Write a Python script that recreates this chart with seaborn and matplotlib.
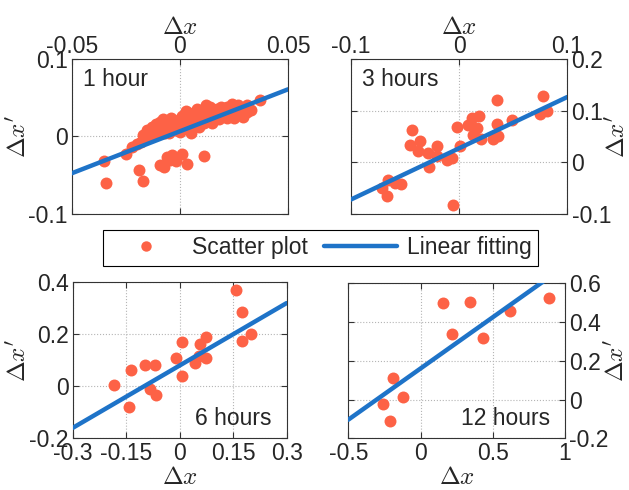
import matplotlib
matplotlib.use("Agg")
import matplotlib.pyplot as plt
import seaborn as sns
from matplotlib.lines import Line2D

# ---- data ---------------------------------------------------------------
# 1 hour
x1 = [-0.035, -0.034, -0.025, -0.019, -0.017, -0.018, -0.016, -0.014, -0.013,
      -0.012, -0.011, -0.010, -0.009, -0.008, -0.008, -0.007, -0.006, -0.005,
      -0.005, -0.004, -0.003, -0.002, -0.001, 0.000, 0.000, 0.001, 0.002,
      0.003, 0.003, 0.004, 0.005, 0.005, 0.006, 0.007, 0.008, 0.009, 0.010,
      0.011, 0.012, 0.012, 0.013, 0.014, 0.015, 0.016, 0.017, 0.018, 0.019,
      0.020, 0.021, 0.022, 0.023, 0.024, 0.025, 0.026, 0.027, 0.028, 0.029,
      0.030, 0.031, 0.033, 0.037,
      -0.017, -0.015, -0.013, -0.011, -0.009, -0.007, -0.004, -0.002, 0.001,
      0.002, 0.004, 0.006, 0.008, 0.009, 0.010, 0.012, 0.014, 0.016, 0.017,
      0.019, 0.020, 0.022, 0.023, 0.025, 0.027, 0.029, 0.031, -0.020, -0.022,
      -0.009, -0.0075, -0.006, -0.0045, -0.0035, -0.002, 0.001, 0.0035, 0.011]
y1 = [-0.031, -0.060, -0.022, -0.043, -0.058, -0.007, -0.003, 0.006, 0.000,
      0.009, 0.003, 0.013, 0.006, 0.023, 0.016, 0.010, 0.020, 0.004,
      0.014, 0.024, 0.009, 0.018, 0.013, 0.022, 0.006, 0.016, 0.026,
      0.033, 0.011, 0.020, 0.004, 0.028, 0.016, 0.031, 0.022, 0.012, 0.027,
      0.018, 0.040, 0.031, 0.023, 0.034, 0.017, 0.028, 0.036, 0.022, 0.031,
      0.026, 0.034, 0.024, 0.029, 0.042, 0.024, 0.034, 0.029, 0.037, 0.025,
      0.036, 0.031, 0.034, 0.047,
      0.002, 0.008, 0.012, 0.016, 0.019, 0.005, 0.016, 0.008, 0.027,
      0.011, 0.030, 0.024, 0.036, 0.030, 0.020, 0.025, 0.038, 0.034, 0.024,
      0.038, 0.033, 0.038, 0.031, 0.032, 0.041, 0.033, 0.040, -0.010, -0.013,
      -0.037, -0.039, -0.027, -0.030, -0.024, -0.032, -0.022, -0.036, -0.025]
fit1_x = [-0.05, 0.05]
fit1_y = [-0.0475, 0.0609]

# 3 hours
x2 = [-0.0714, -0.0653, -0.0668, -0.0591, -0.0538, -0.0437, -0.0452, -0.0360,
      -0.0376, -0.0283, -0.0206, -0.0274, -0.0206, -0.0114, -0.0068, -0.0058,
      -0.0021, 0.0010, 0.0117, 0.0187, 0.0086, 0.0163, 0.0132, 0.0200,
      0.0348, 0.0348, 0.0317, 0.0363, 0.0487, 0.0778, 0.0748, 0.0810]
y2 = [-0.0495, -0.0335, -0.0644, -0.0398, -0.0412, 0.0632, 0.0342, 0.0406,
      0.0213, 0.0180, 0.0323, -0.0090, 0.0116, 0.0052, 0.0085, -0.0831,
      0.0684, 0.0310, 0.0858, 0.0903, 0.0729, 0.0665, 0.0536, 0.0452,
      0.1200, 0.0749, 0.0452, 0.0503, 0.0826, 0.1277, 0.0942, 0.0987]
fit2_x = [-0.1, 0.1]
fit2_y = [-0.0722, 0.1265]

# 6 hours
x3 = [-0.185, -0.137, -0.143, -0.098, -0.069, -0.083, -0.066, -0.009, 0.008,
      0.007, 0.044, 0.056, 0.053, 0.074, 0.073, 0.159, 0.175, 0.176, 0.201]
y3 = [0.005, 0.064, -0.080, 0.080, 0.081, -0.009, -0.035, 0.109, 0.170,
      0.038, 0.091, 0.162, 0.115, 0.190, 0.110, 0.372, 0.286, 0.173, 0.203]
fit3_x = [-0.3, 0.3]
fit3_y = [-0.160, 0.320]

# 12 hours
x4 = [-0.258, -0.211, -0.189, -0.120, 0.156, 0.346, 0.220, 0.431, 0.622, 0.891]
y4 = [-0.021, -0.113, 0.109, 0.014, 0.500, 0.505, 0.339, 0.318, 0.455, 0.524]
fit4_x = [-0.5, 1.0]
fit4_y = [-0.104, 0.689]

panel_titles = ["1 hour", "3 hours", "6 hours", "12 hours"]

xticks = [[-0.05, 0, 0.05], [-0.1, 0, 0.1],
          [-0.3, -0.15, 0, 0.15, 0.3], [-0.5, 0, 0.5, 1]]
xticklabels = [["-0.05", "0", "0.05"], ["-0.1", "0", "0.1"],
               ["-0.3", "-0.15", "0", "0.15", "0.3"], ["-0.5", "0", "0.5", "1"]]
yticks = [[-0.1, 0, 0.1], [-0.1, 0, 0.1, 0.2],
          [-0.2, 0, 0.2, 0.4], [-0.2, 0, 0.2, 0.4, 0.6]]
yticklabels = [["-0.1", "0", "0.1"], ["-0.1", "0", "0.1", "0.2"],
               ["-0.2", "0", "0.2", "0.4"], ["-0.2", "0", "0.2", "0.4", "0.6"]]

# ---- style --------------------------------------------------------------
sns.set_style("white")
plt.rcParams["font.family"] = ["Liberation Sans", "DejaVu Sans"]
plt.rcParams["mathtext.fontset"] = "cm"

DOT = "#FD6246"
LINE = "#1E73C8"
EDGE = "#333333"
FS = 16.5
LABEL_FS = 18

fig = plt.figure(figsize=(6.29, 4.90), dpi=100)

boxes = [[0.114, 0.5633, 0.344, 0.3163],
         [0.5576, 0.5633, 0.3444, 0.3163],
         [0.1156, 0.1055, 0.340, 0.3184],
         [0.5537, 0.1055, 0.3445, 0.3163]]

series = [(x1, y1, fit1_x, fit1_y), (x2, y2, fit2_x, fit2_y),
          (x3, y3, fit3_x, fit3_y), (x4, y4, fit4_x, fit4_y)]

title_pos = [(0.05, 0.87, "left", "center"), (0.05, 0.87, "left", "center"),
             (0.93, 0.13, "right", "center"), (0.93, 0.13, "right", "center")]

# axis-label anchors (axes fraction) for x and y labels of each panel
xlabel_xy = [(0.5, 1.205), (0.5, 1.205), (0.5, -0.248), (0.5, -0.248)]
ylabel_xy = [(-0.246, 0.5), (1.232, 0.5), (-0.253, 0.5), (1.24, 0.5)]

for i, (box, (xs, ys, fx, fy)) in enumerate(zip(boxes, series)):
    ax = fig.add_axes(box)
    ax.set_axisbelow(True)
    sns.scatterplot(x=xs, y=ys, ax=ax, color=DOT, s=74, linewidth=0,
                    alpha=1, zorder=2, legend=False)
    sns.lineplot(x=fx, y=fy, ax=ax, color=LINE, linewidth=3.2, zorder=3,
                 legend=False)

    ax.set_xlim(xticks[i][0], xticks[i][-1])
    ax.set_ylim(yticks[i][0], yticks[i][-1])
    ax.set_xticks(xticks[i])
    ax.set_xticklabels(xticklabels[i])
    ax.set_yticks(yticks[i])
    ax.set_yticklabels(yticklabels[i])

    ax.grid(True, linestyle=":", color="#b5b5b5", linewidth=0.8)
    for sp in ax.spines.values():
        sp.set_color(EDGE)
        sp.set_linewidth(0.8)

    top = i < 2
    right = i % 2 == 1
    ax.tick_params(direction="in", length=4, width=0.8, color=EDGE,
                   labelsize=FS, pad=3,
                   top=True, bottom=True, left=True, right=True,
                   labeltop=top, labelbottom=not top,
                   labelleft=not right, labelright=right)
    if top:
        ax.tick_params(axis="x", pad=1)

    ax.set_xlabel(r"$\Delta x$", fontsize=LABEL_FS)
    ax.set_ylabel(r"$\Delta x'$", fontsize=LABEL_FS)
    if top:
        ax.xaxis.set_label_position("top")
    if right:
        ax.yaxis.set_label_position("right")
    ax.xaxis.set_label_coords(*xlabel_xy[i])
    ax.yaxis.set_label_coords(*ylabel_xy[i])
    ax.xaxis.label.set_verticalalignment("center")
    ax.yaxis.label.set_horizontalalignment("center")
    ax.yaxis.label.set_verticalalignment("center")

    tx, ty, ha, va = title_pos[i]
    ax.text(tx, ty, panel_titles[i], transform=ax.transAxes, fontsize=FS,
            ha=ha, va=va)

handles = [Line2D([], [], marker="o", linestyle="none", color=DOT,
                  markeredgewidth=0, markersize=7.5, label="Scatter plot"),
           Line2D([], [], color=LINE, linewidth=3.2, label="Linear fitting")]
leg = fig.legend(handles=handles, loc="center", bbox_to_anchor=(0.5095, 0.494),
                 ncol=2, frameon=True, fancybox=False, fontsize=FS,
                 handlelength=3.2, handletextpad=0.4, columnspacing=0.7,
                 borderpad=0.3, borderaxespad=0)
leg.get_frame().set_edgecolor("black")
leg.get_frame().set_linewidth(0.8)
leg.get_frame().set_alpha(1)

fig.savefig("out.png", dpi=100)
